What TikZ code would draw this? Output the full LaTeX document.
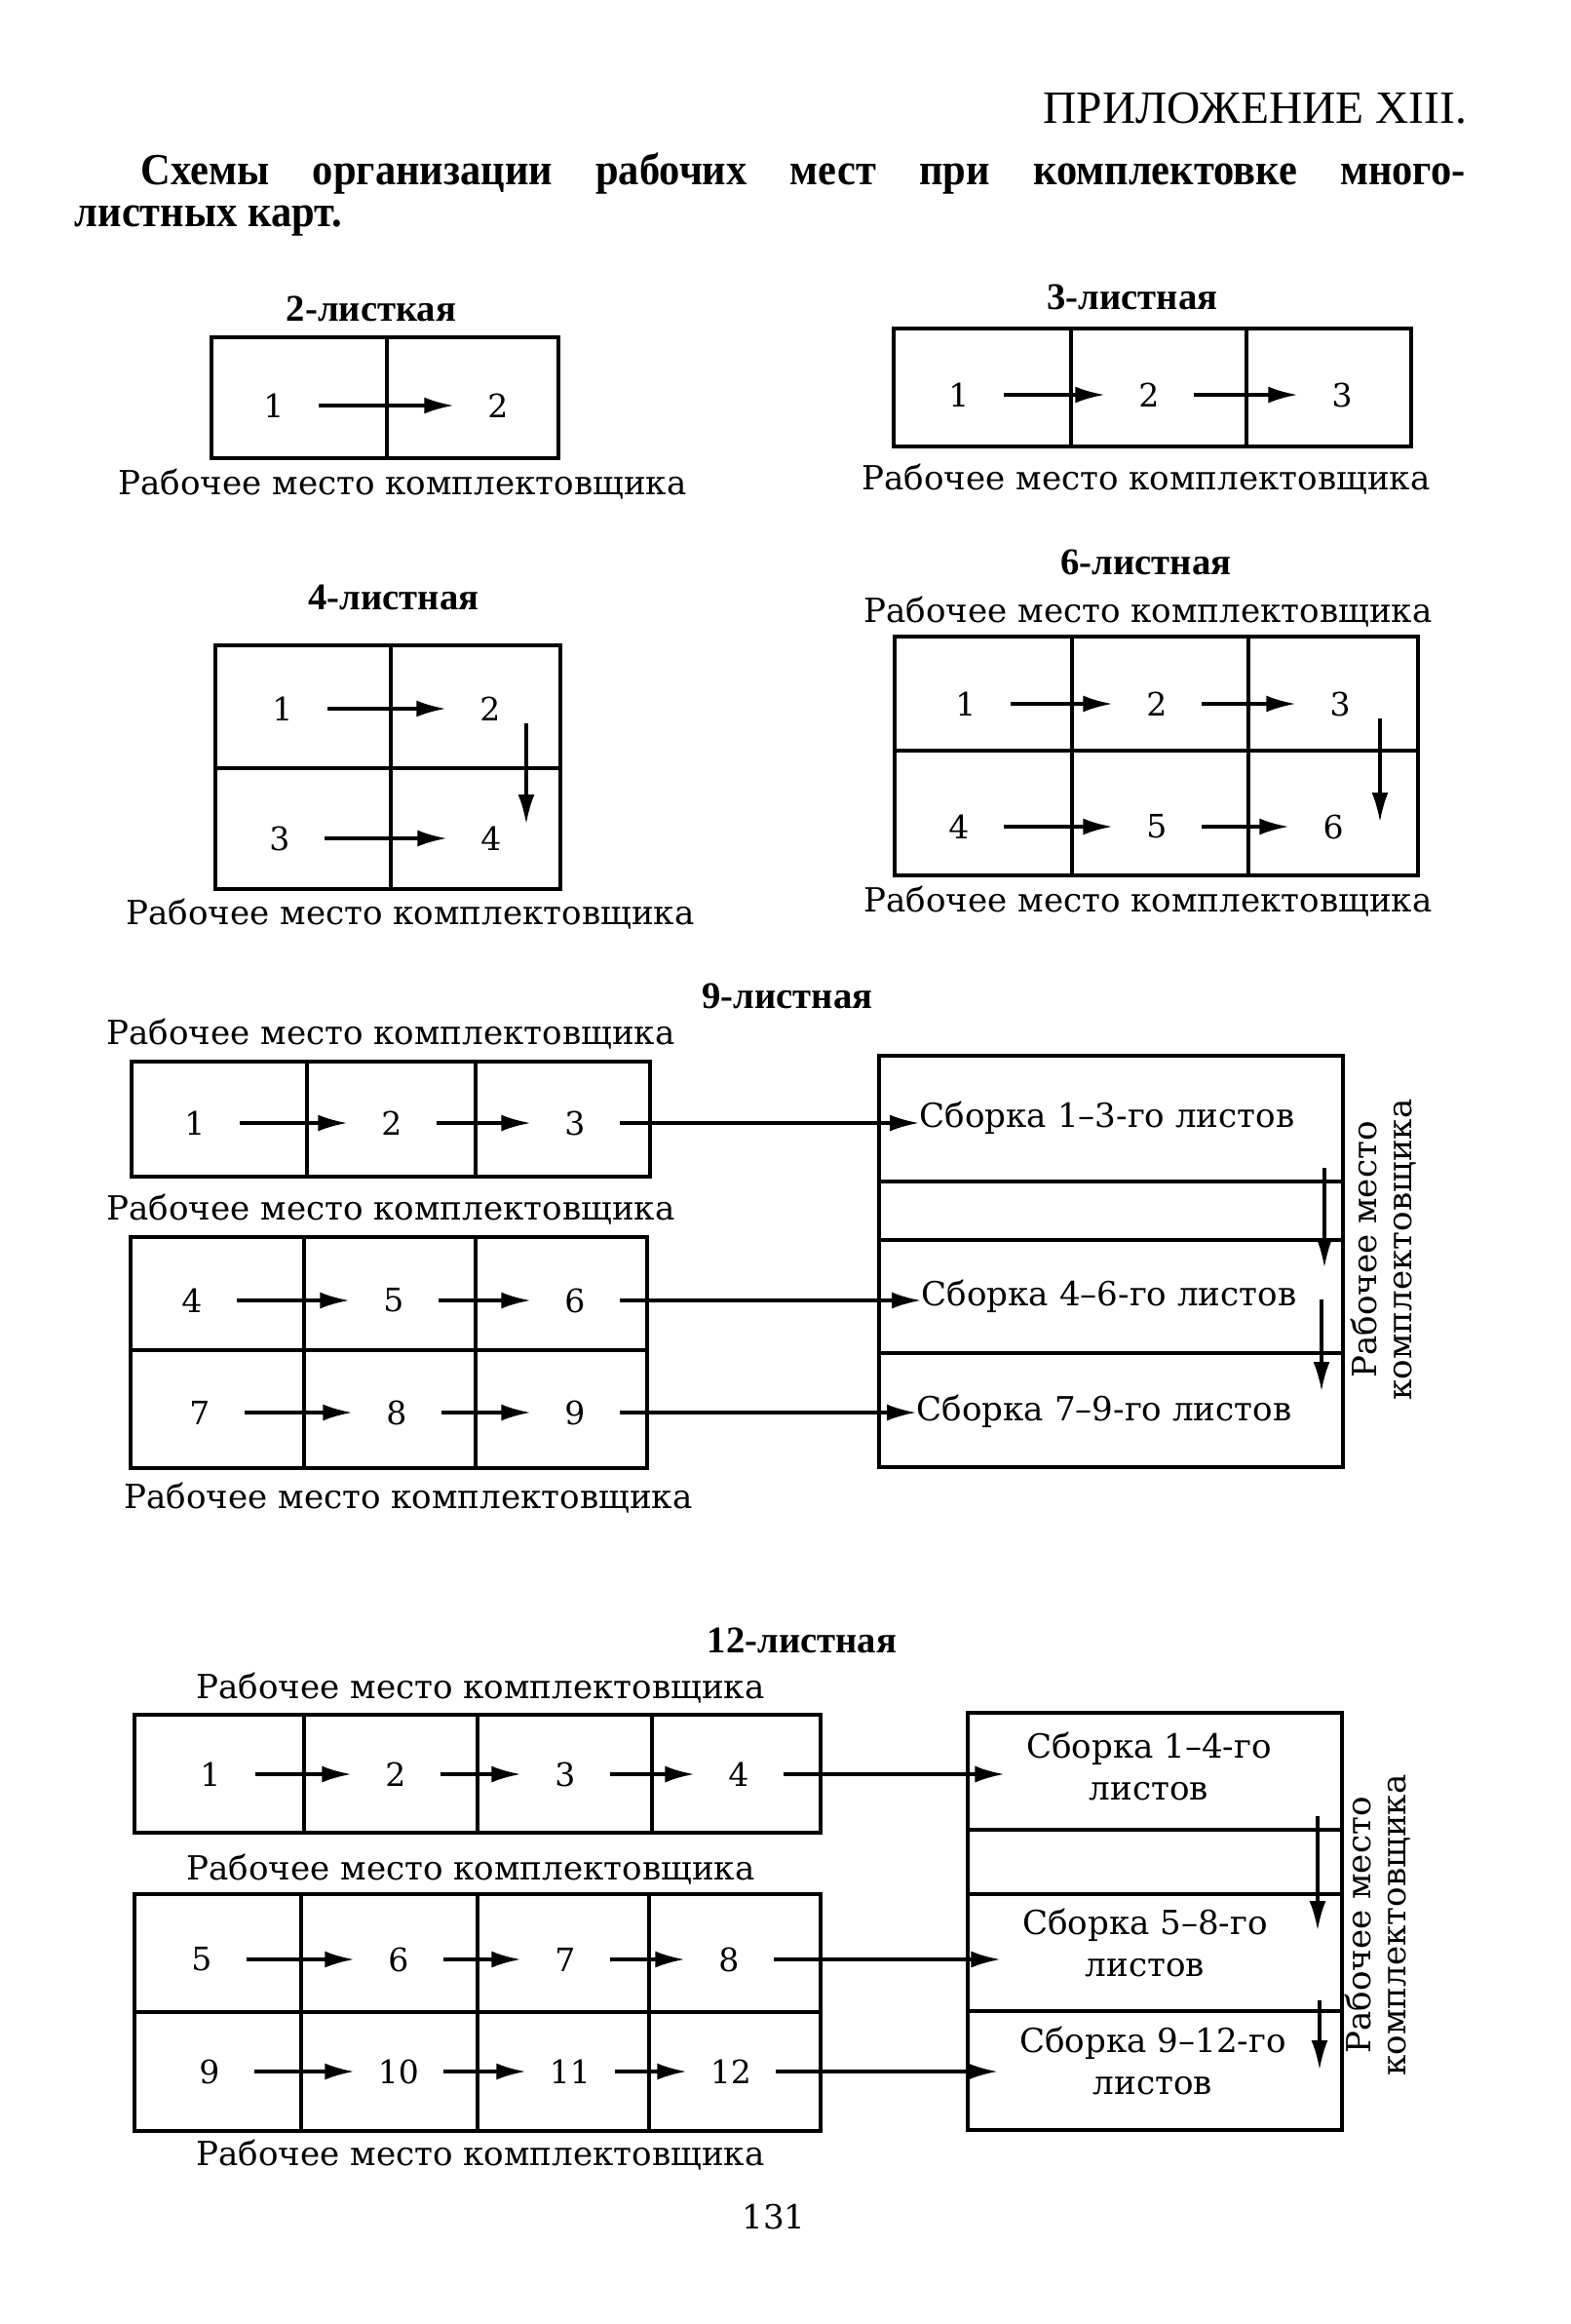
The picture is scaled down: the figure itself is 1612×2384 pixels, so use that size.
\documentclass[tikz,border=0pt]{standalone}
\usepackage{fontspec}
\setmainfont{DejaVu Serif}
\newfontfamily\timesfont{Liberation Serif}
\newfontfamily\narrowfont[FakeStretch=0.93]{Liberation Serif}
\usetikzlibrary{arrows.meta}

\begin{document}
\begin{tikzpicture}[x=0.1mm,y=-0.1mm,
  boxline/.style={line width=1.1pt},
  num/.style={font=\fontsize{9.4}{11}\selectfont, minimum width=7mm, inner sep=0pt},
  lbl/.style={font=\fontsize{9.7}{10.3}\selectfont, inner sep=0pt},
  asm/.style={font=\fontsize{9.7}{12.5}\selectfont, inner sep=0pt, align=center},
  ttl/.style={font=\timesfont\bfseries\fontsize{11}{13}\selectfont, inner sep=0pt},
  flow/.style={-{Latex[length=3mm,width=1.7mm]}, line width=0.9pt, shorten <=1mm, shorten >=1mm},
  feed/.style={-{Latex[length=3mm,width=1.7mm]}, line width=0.9pt, shorten <=1mm}]
  \fill[white] (0,0) rectangle (1612,2384);
  \node[anchor=east, font=\timesfont\fontsize{13.5}{16}\selectfont, inner sep=0pt] (app) at (1506,111) {ПРИЛОЖЕНИЕ XIII.};
  \node[anchor=north west, text width=142.7mm, align=justify, inner sep=0pt,
        font=\narrowfont\bfseries\fontsize{13}{12.2}\selectfont] (head) at (76,156)
    {\hspace*{6.8mm}Схемы организации рабочих мест при комплектовке много-\linebreak листных карт.};

  \node[ttl] (hd2) at (381,317) {2-листкая};
  \draw[boxline] (217,346) rectangle (573,470) (397,346) -- (397,470);
  \foreach \i/\x in {1/281,2/511} \node[num] (a\i) at (\x,416) {\i};
  \draw[flow] (a1) -- (a2);
  \node[lbl] (cap2) at (413,497) {Рабочее место комплектовщика};

  \node[ttl] (hd3) at (1162,305) {3-листная};
  \draw[boxline] (917,337) rectangle (1448,458) (1099,337) -- (1099,458) (1279,337) -- (1279,458);
  \foreach \i/\x in {1/984,2/1179,3/1377} \node[num] (b\i) at (\x,405) {\i};
  \draw[flow] (b1) -- (b2);
  \draw[flow] (b2) -- (b3);
  \node[lbl] (cap3) at (1176,492) {Рабочее место комплектовщика};

  \node[ttl] (hd4) at (404,613) {4-листная};
  \draw[boxline] (221,662) rectangle (575,912) (401,662) -- (401,912) (221,788) -- (575,788);
  \foreach \i/\x/\y in {1/290/727,2/503/727,3/287/860,4/504/860} \node[num] (c\i) at (\x,\y) {\i};
  \draw[flow] (c1) -- (c2);
  \draw[flow] (c3) -- (c4);
  \coordinate (c2d) at (540,732);
  \coordinate (c4u) at (540,845);
  \draw[feed] (c2d) -- (c4u);
  \node[lbl] (cap4) at (421,938) {Рабочее место комплектовщика};

  \node[ttl] (hd6) at (1176,577) {6-листная};
  \node[lbl] (cap6a) at (1178,628) {Рабочее место комплектовщика};
  \draw[boxline] (918,653) rectangle (1455,898) (1100,653) -- (1100,898) (1281,653) -- (1281,898) (918,770) -- (1455,770);
  \foreach \i/\x/\y in {1/991/722,2/1187/722,3/1375/722,4/984/848,5/1187/848,6/1368/848} \node[num] (e\i) at (\x,\y) {\i};
  \foreach \i/\j in {1/2,2/3,4/5,5/6} \draw[flow] (e\i) -- (e\j);
  \coordinate (e3d) at (1416,727);
  \coordinate (e6u) at (1416,843);
  \draw[feed] (e3d) -- (e6u);
  \node[lbl] (cap6b) at (1178,925) {Рабочее место комплектовщика};

  \node[ttl] (hd9) at (808,1022) {9-листная};
  \node[lbl] (cap9a) at (401,1061) {Рабочее место комплектовщика};
  \draw[boxline] (135,1089) rectangle (667,1207) (315,1089) -- (315,1207) (488,1089) -- (488,1207);
  \node[lbl] (cap9b) at (401,1241) {Рабочее место комплектовщика};
  \draw[boxline] (134,1269) rectangle (664,1506) (312,1269) -- (312,1506) (488,1269) -- (488,1506) (134,1385) -- (664,1385);
  \node[lbl] (cap9c) at (419,1537) {Рабочее место комплектовщика};
  \foreach \i/\x/\y in {1/200/1152,2/402/1152,3/590/1152,4/197/1334,5/404/1334,6/590/1334,7/205/1449,8/407/1449,9/590/1449}
    \node[num] (g\i) at (\x,\y) {\i};
  \foreach \i/\j in {1/2,2/3,4/5,5/6,7/8,8/9} \draw[flow] (g\i) -- (g\j);
  \draw[boxline] (902,1083) rectangle (1378,1505) (902,1212) -- (1378,1212) (902,1272) -- (1378,1272) (902,1388) -- (1378,1388);
  \node[lbl, anchor=west] (ga) at (943,1147) {Сборка 1–3-го листов};
  \node[lbl, anchor=west] (gb) at (945,1330) {Сборка 4–6-го листов};
  \node[lbl, anchor=west] (gc) at (940,1448) {Сборка 7–9-го листов};
  \draw[feed] (g3) -- (g3 -| ga.west);
  \draw[feed] (g6) -- (g6 -| gb.west);
  \draw[feed] (g9) -- (g9 -| gc.west);
  \coordinate (ga1) at (1359,1188);
  \coordinate (ga2) at (1359,1300);
  \coordinate (gb1) at (1356,1323);
  \coordinate (gb2) at (1356,1427);
  \draw[feed] (ga1) -- (ga2);
  \draw[feed] (gb1) -- (gb2);
  \node[lbl, rotate=90, align=center] (side9) at (1420,1282) {Рабочее место\\комплектовщика};

  \node[ttl] (hd12) at (823,1683) {12-листная};
  \node[lbl] (cap12a) at (493,1732) {Рабочее место комплектовщика};
  \draw[boxline] (138,1759) rectangle (842,1880) (312,1759) -- (312,1880) (490,1759) -- (490,1880) (669,1759) -- (669,1880);
  \node[lbl] (cap12b) at (483,1918) {Рабочее место комплектовщика};
  \draw[boxline] (138,1943) rectangle (842,2186) (309,1943) -- (309,2186) (490,1943) -- (490,2186) (666,1943) -- (666,2186) (138,2064) -- (842,2064);
  \node[lbl] (cap12c) at (493,2211) {Рабочее место комплектовщика};
  \foreach \i/\x/\y in {1/216/1820,2/406/1820,3/580/1820,4/758/1820,5/207/2010,6/409/2010,7/580/2010,8/748/2010,9/215/2125,10/409/2125,11/585/2125,12/750/2125}
    \node[num] (h\i) at (\x,\y) {\i};
  \foreach \i/\j in {1/2,2/3,3/4,5/6,6/7,7/8,9/10,10/11,11/12} \draw[flow] (h\i) -- (h\j);
  \draw[boxline] (993,1757) rectangle (1377,2185) (993,1877) -- (1377,1877) (993,1943) -- (1377,1943) (993,2063) -- (1377,2063);
  \node[asm] (ha) at (1179,1812) {Сборка 1–4-го\\листов};
  \node[asm] (hb) at (1175,1993) {Сборка 5–8-го\\листов};
  \node[asm] (hc) at (1183,2114) {Сборка 9–12-го\\листов};
  \draw[feed, shorten >=2.2mm] (h4) -- (h4 -| ha.west);
  \draw[feed, shorten >=2.2mm] (h8) -- (h8 -| hb.west);
  \draw[feed, shorten >=2.2mm] (h12) -- (h12 -| hc.west);
  \coordinate (ha1) at (1352,1853);
  \coordinate (ha2) at (1352,1980);
  \coordinate (hb1) at (1354,2042);
  \coordinate (hb2) at (1354,2123);
  \draw[feed] (ha1) -- (ha2);
  \draw[feed] (hb1) -- (hb2);
  \node[lbl, rotate=90, align=center] (side12) at (1414,1975) {Рабочее место\\комплектовщика};

  \node[lbl] (page) at (794,2274) {131};
\end{tikzpicture}
\end{document}
